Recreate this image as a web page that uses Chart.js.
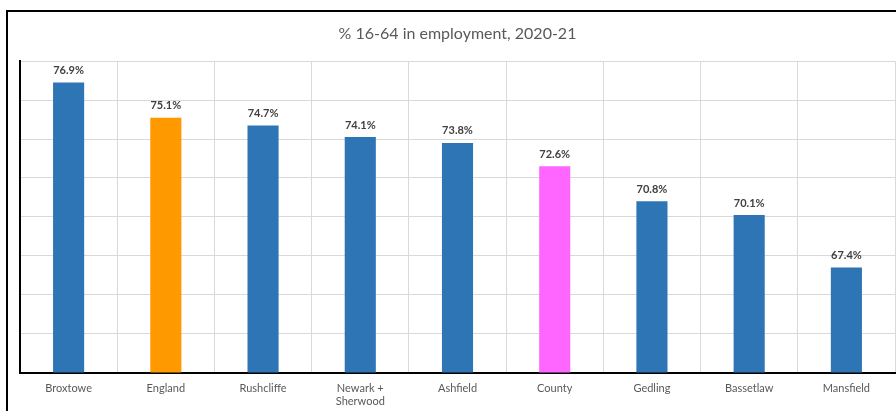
<!DOCTYPE html>
<html>
<head>
<meta charset="utf-8" />
<script src="https://cdn.jsdelivr.net/npm/chart.js@4.4.1/dist/chart.umd.min.js"></script>
<style>
  body { margin:0; background:#fff; width:896px; height:411px; overflow:hidden; position:relative; }
  #frame { position:absolute; left:6px; top:10px; width:1000px; height:1000px; border:2px solid #000; border-right:none; border-bottom:none; }
  #wrap { position:absolute; left:0; top:0; width:896px; height:420px; }
</style>
</head>
<body>
<div id="frame"></div>
<div id="wrap"><canvas id="chart"></canvas></div>
<script>
const areas = ["Broxtowe", "England", "Rushcliffe", ["Newark +", "Sherwood"], "Ashfield", "County", "Gedling", "Bassetlaw", "Mansfield"];
const employed = [76.9, 75.1, 74.7, 74.1, 73.8, 72.6, 70.8, 70.1, 67.4];
const barColours = ["#2E75B6", "#FF9900", "#2E75B6", "#2E75B6", "#2E75B6", "#FF66FF", "#2E75B6", "#2E75B6", "#2E75B6"];
const yMin = 62, yMax = 78, yStep = 2;

const FONT = "Lato, 'Open Sans', sans-serif";

// value labels above each bar
const valueLabels = {
  id: "valueLabels",
  afterDatasetsDraw(chart) {
    const ctx = chart.ctx;
    const meta = chart.getDatasetMeta(0);
    ctx.save();
    ctx.font = "bold 11px " + FONT;
    ctx.fillStyle = "#404040";
    ctx.textAlign = "center";
    ctx.textBaseline = "middle";
    meta.data.forEach((bar, i) => {
      ctx.fillText(employed[i].toFixed(1) + "%", bar.x, bar.y - 12);
    });
    ctx.restore();
  }
};

new Chart(document.getElementById("chart"), {
  type: "bar",
  data: {
    labels: areas,
    datasets: [{
      data: employed,
      backgroundColor: barColours,
      barPercentage: 0.64,
      categoryPercentage: 0.5
    }]
  },
  options: {
    responsive: true,
    maintainAspectRatio: false,
    animation: false,
    layout: { padding: { left: 20, right: 1, top: 0, bottom: 3 } },
    plugins: {
      legend: { display: false },
      tooltip: { enabled: false },
      title: {
        display: true,
        text: "% 16-64 in employment, 2020-21",
        color: "#595959",
        font: { family: FONT, size: 16, weight: "normal" },
        padding: { top: 24, bottom: 18 }
      }
    },
    scales: {
      x: {
        grid: { offset: true, color: "#d9d9d9", lineWidth: 1, drawTicks: false },
        border: { color: "#000", width: 2 },
        ticks: { color: "#595959", font: { family: FONT, size: 11 }, padding: 9, maxRotation: 0, autoSkip: false }
      },
      y: {
        min: yMin, max: yMax,
        ticks: { stepSize: yStep, display: false },
        grid: { color: "#d9d9d9", lineWidth: 1, drawTicks: false },
        border: { color: "#000", width: 2 }
      }
    }
  },
  plugins: [valueLabels]
});
</script>
</body>
</html>
